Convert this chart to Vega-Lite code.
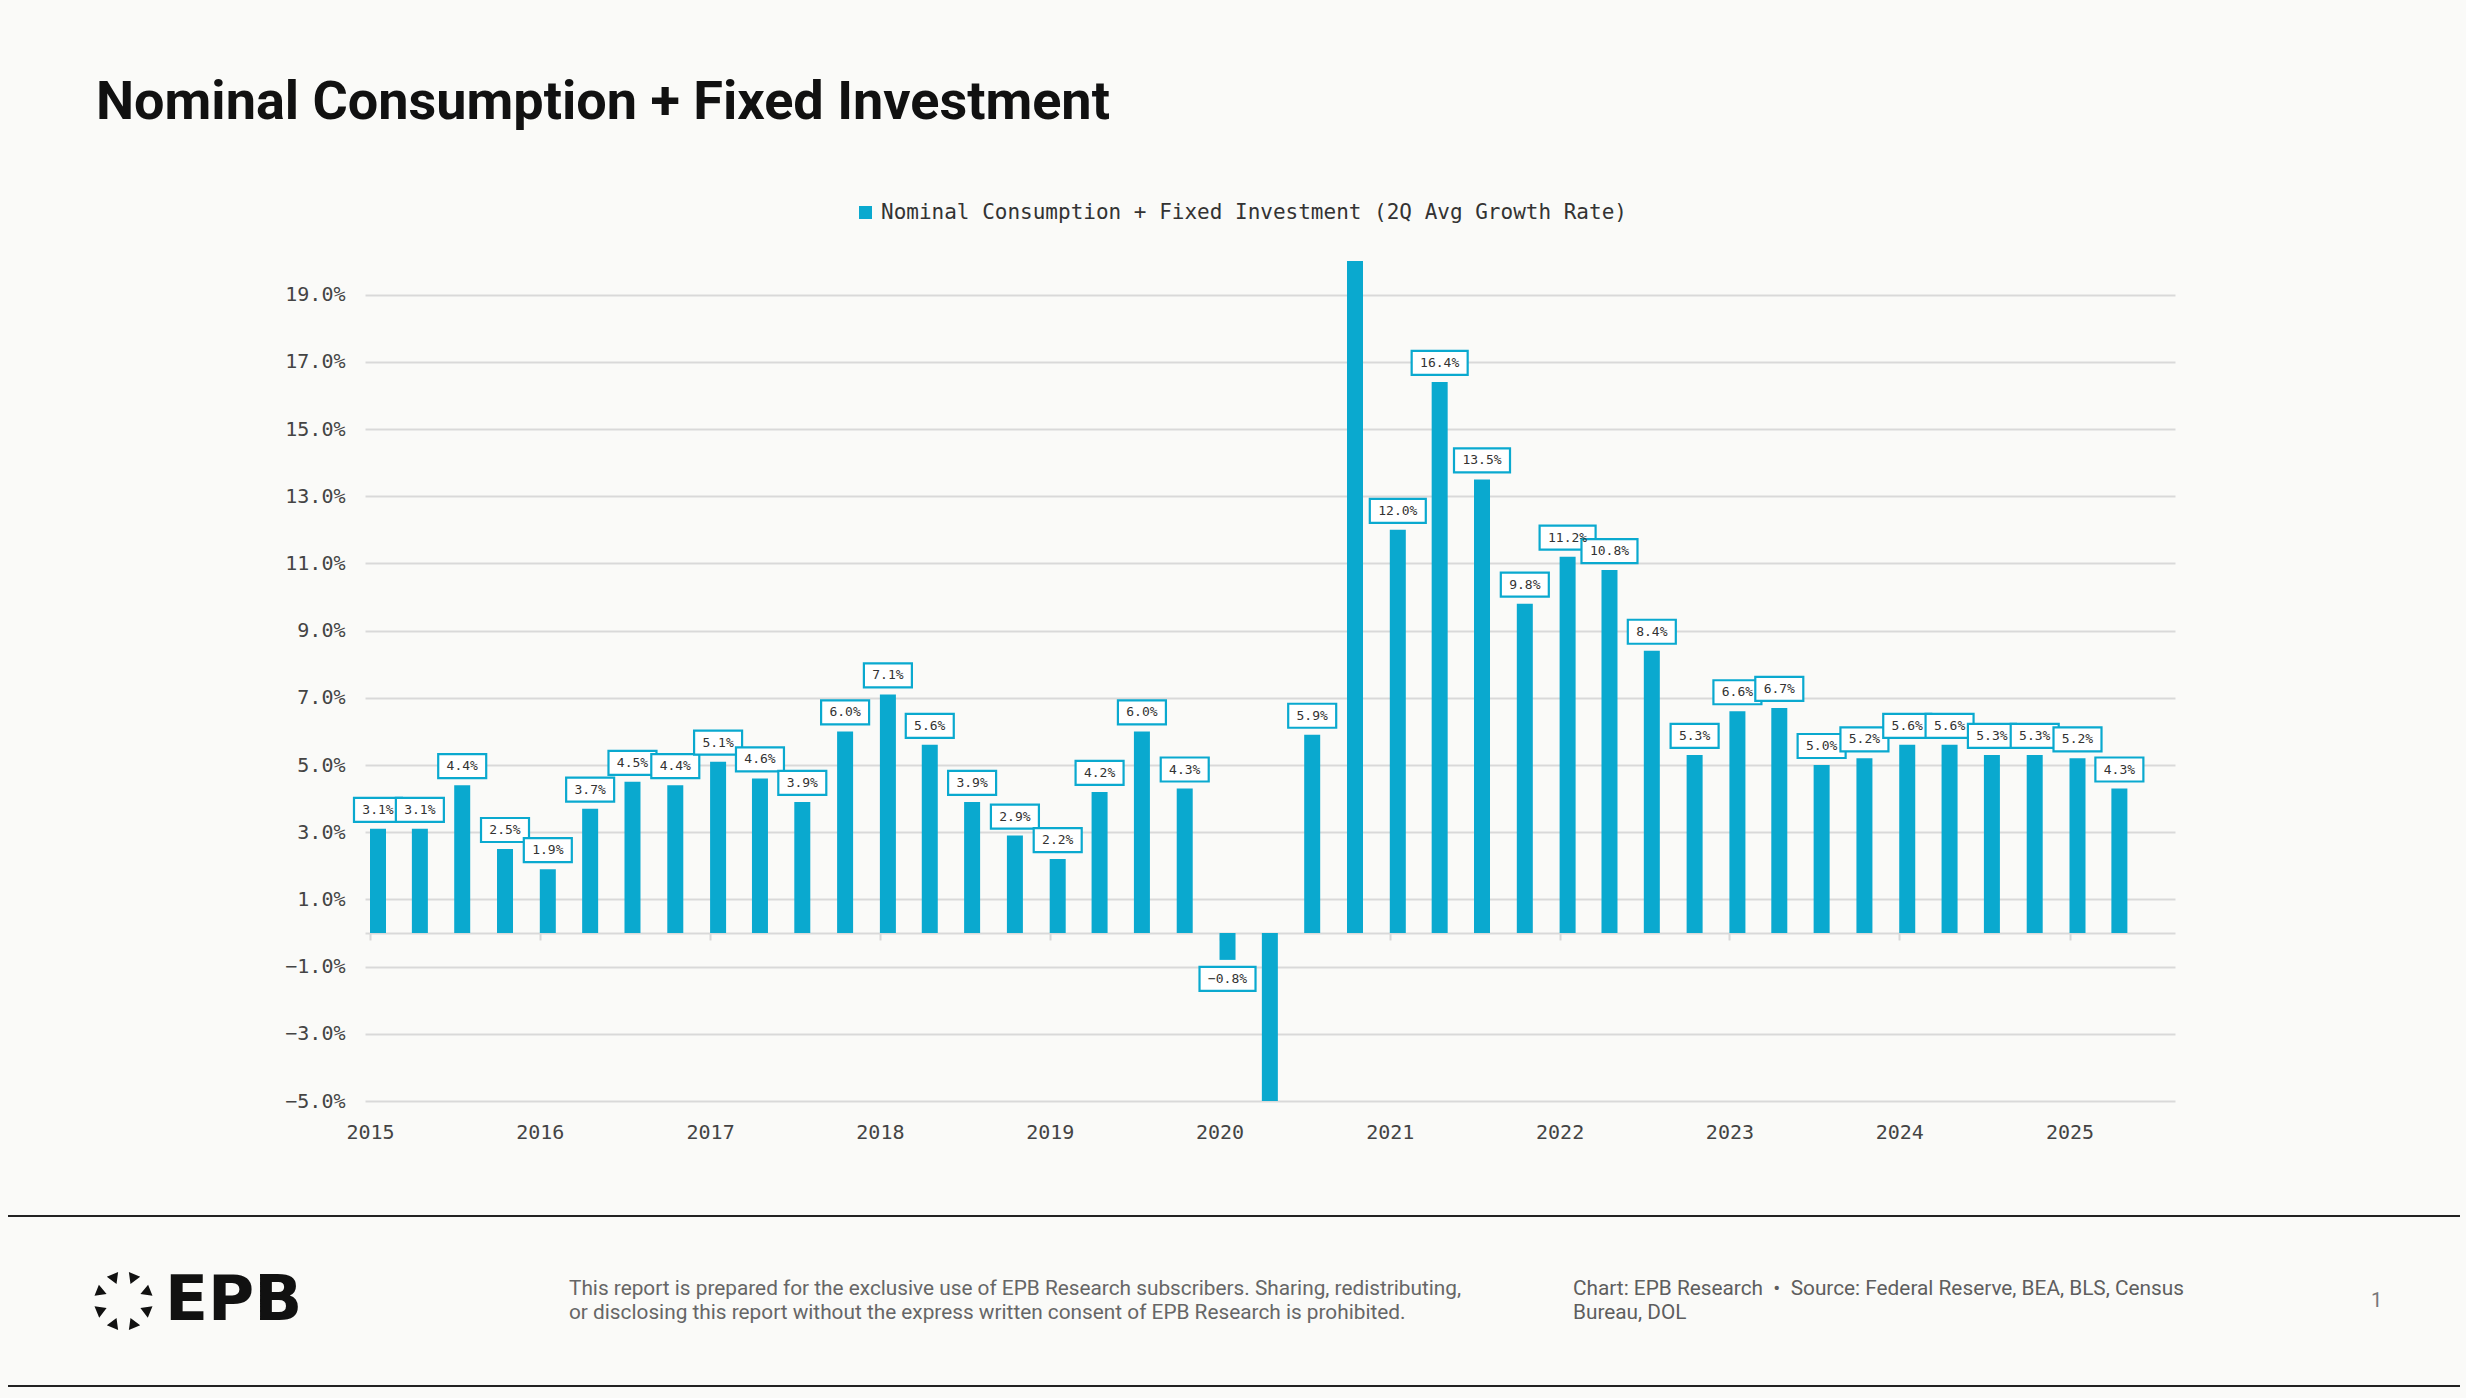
{
  "$schema": "https://vega.github.io/schema/vega-lite/v6.json",
  "background": "#FAFAF8",
  "padding": {"left": 8, "top": 76, "right": 6, "bottom": 11},
  "config": {"view": {"stroke": null}, "font": "DejaVu Sans Mono"},
  "title": {"text": "Nominal Consumption + Fixed Investment", "anchor": "start", "frame": "bounds", "font": "Roboto", "fontWeight": 700, "fontSize": 54, "color": "#111111", "dx": 88, "offset": 72},
  "bounds": "full",
  "spacing": 73,
  "vconcat": [
    {
      "bounds": "flush",
      "spacing": 0,
      "hconcat": [
        {"width": 357, "height": 840, "data": {"values": []}, "mark": "text", "view": {"fill": "#FFFFFF", "fillOpacity": 0}},
        {
          "width": 1810,
          "height": 840,
          "data": {"values": [
            {"date": "2015-01-01", "v": 3.1}, {"date": "2015-04-01", "v": 3.1}, {"date": "2015-07-01", "v": 4.4}, {"date": "2015-10-01", "v": 2.5},
            {"date": "2016-01-01", "v": 1.9}, {"date": "2016-04-01", "v": 3.7}, {"date": "2016-07-01", "v": 4.5}, {"date": "2016-10-01", "v": 4.4},
            {"date": "2017-01-01", "v": 5.1}, {"date": "2017-04-01", "v": 4.6}, {"date": "2017-07-01", "v": 3.9}, {"date": "2017-10-01", "v": 6.0},
            {"date": "2018-01-01", "v": 7.1}, {"date": "2018-04-01", "v": 5.6}, {"date": "2018-07-01", "v": 3.9}, {"date": "2018-10-01", "v": 2.9},
            {"date": "2019-01-01", "v": 2.2}, {"date": "2019-04-01", "v": 4.2}, {"date": "2019-07-01", "v": 6.0}, {"date": "2019-10-01", "v": 4.3},
            {"date": "2020-01-01", "v": -0.8}, {"date": "2020-04-01", "v": -5.0}, {"date": "2020-07-01", "v": 5.9}, {"date": "2020-10-01", "v": 20.0},
            {"date": "2021-01-01", "v": 12.0}, {"date": "2021-04-01", "v": 16.4}, {"date": "2021-07-01", "v": 13.5}, {"date": "2021-10-01", "v": 9.8},
            {"date": "2022-01-01", "v": 11.2}, {"date": "2022-04-01", "v": 10.8}, {"date": "2022-07-01", "v": 8.4}, {"date": "2022-10-01", "v": 5.3},
            {"date": "2023-01-01", "v": 6.6}, {"date": "2023-04-01", "v": 6.7}, {"date": "2023-07-01", "v": 5.0}, {"date": "2023-10-01", "v": 5.2},
            {"date": "2024-01-01", "v": 5.6}, {"date": "2024-04-01", "v": 5.6}, {"date": "2024-07-01", "v": 5.3}, {"date": "2024-10-01", "v": 5.3},
            {"date": "2025-01-01", "v": 5.2}, {"date": "2025-04-01", "v": 4.3}
          ]},
          "transform": [{"calculate": "format(datum.v, '.1f') + '%'", "as": "lab"}],
          "encoding": {
            "x": {
              "field": "date", "type": "temporal",
              "scale": {"type": "utc", "domain": [{"year": 2015, "month": 1, "date": 1, "utc": true}, {"year": 2025, "month": 8, "date": 5, "utc": true}], "nice": false},
              "axis": {
                "values": [
                  {"year": 2015, "month": 1, "date": 1, "utc": true}, {"year": 2016, "month": 1, "date": 1, "utc": true},
                  {"year": 2017, "month": 1, "date": 1, "utc": true}, {"year": 2018, "month": 1, "date": 1, "utc": true},
                  {"year": 2019, "month": 1, "date": 1, "utc": true}, {"year": 2020, "month": 1, "date": 1, "utc": true},
                  {"year": 2021, "month": 1, "date": 1, "utc": true}, {"year": 2022, "month": 1, "date": 1, "utc": true},
                  {"year": 2023, "month": 1, "date": 1, "utc": true}, {"year": 2024, "month": 1, "date": 1, "utc": true},
                  {"year": 2025, "month": 1, "date": 1, "utc": true}
                ],
                "format": "%Y",
                "grid": false,
                "domain": true, "domainColor": "#D9D9D9", "domainWidth": 2,
                "ticks": true, "tickColor": "#D9D9D9", "tickWidth": 2, "tickSize": 7,
                "offset": -168,
                "labelPadding": 182,
                "labelDx": 8,
                "labelBaseline": "top",
                "labelFont": "DejaVu Sans Mono", "labelFontSize": 20, "labelColor": "#444444",
                "labelFlush": false, "labelOverlap": false,
                "title": null
              }
            },
            "y": {
              "field": "v", "type": "quantitative",
              "scale": {"domain": [-5, 20], "nice": false, "zero": false},
              "axis": {
                "values": [-5, -3, -1, 1, 3, 5, 7, 9, 11, 13, 15, 17, 19],
                "labelExpr": "format(datum.value, '.1f') + '%'",
                "grid": true, "gridColor": "#D9D9D9", "gridWidth": 2,
                "domain": false, "ticks": false,
                "labelPadding": 20,
                "labelFont": "DejaVu Sans Mono", "labelFontSize": 20, "labelColor": "#444444",
                "title": null
              }
            }
          },
          "layer": [
            {
              "mark": {"type": "bar", "size": 16, "xOffset": 8, "clip": true},
              "encoding": {
                "color": {
                  "datum": "Nominal Consumption + Fixed Investment (2Q Avg Growth Rate)",
                  "type": "nominal",
                  "scale": {"range": ["#0AA9CF"]},
                  "legend": {"orient": "none", "legendX": 847, "legendY": -59, "title": null, "symbolType": "square", "symbolSize": 170, "symbolStrokeWidth": 0, "labelFont": "DejaVu Sans Mono", "labelFontSize": 21, "labelColor": "#333333", "labelOffset": 5, "labelLimit": 3000, "padding": 0}
                }
              }
            },
            {
              "transform": [{"filter": "datum.v >= 0 && datum.v < 20"}],
              "mark": {"type": "point", "filled": true, "fill": "#FFFFFF", "stroke": "#0AA9CF", "strokeWidth": 2.2, "opacity": 1, "fillOpacity": 1, "strokeOpacity": 1, "xOffset": 8, "yOffset": -19},
              "encoding": {
                "shape": {"condition": {"test": "length(datum.lab) > 4", "value": "M-1,-0.4286H1V0.4286H-1Z"}, "value": "M-1,-0.5H1V0.5H-1Z"},
                "size": {"condition": {"test": "length(datum.lab) > 4", "value": 3136}, "value": 2304}
              }
            },
            {
              "transform": [{"filter": "datum.v >= 0 && datum.v < 20"}],
              "mark": {"type": "text", "font": "DejaVu Sans Mono", "fontSize": 13, "color": "#333333", "xOffset": 8, "yOffset": -19, "baseline": "middle", "align": "center"},
              "encoding": {"text": {"field": "lab"}}
            },
            {
              "transform": [{"filter": "datum.v < 0 && datum.v > -5"}],
              "mark": {"type": "point", "filled": true, "fill": "#FFFFFF", "stroke": "#0AA9CF", "strokeWidth": 2.2, "opacity": 1, "fillOpacity": 1, "strokeOpacity": 1, "xOffset": 8, "yOffset": 19},
              "encoding": {
                "shape": {"condition": {"test": "length(datum.lab) > 4", "value": "M-1,-0.4286H1V0.4286H-1Z"}, "value": "M-1,-0.5H1V0.5H-1Z"},
                "size": {"condition": {"test": "length(datum.lab) > 4", "value": 3136}, "value": 2304}
              }
            },
            {
              "transform": [{"filter": "datum.v < 0 && datum.v > -5"}],
              "mark": {"type": "text", "font": "DejaVu Sans Mono", "fontSize": 13, "color": "#333333", "xOffset": 8, "yOffset": 19, "baseline": "middle", "align": "center"},
              "encoding": {"text": {"field": "lab"}}
            }
          ]
        }
      ]
    },
    {
      "bounds": "full",
      "spacing": 0,
      "vconcat": [
        {"width": 2452, "height": 2, "data": {"values": []}, "mark": "text", "view": {"fill": "#222222", "stroke": null}},
        {
          "bounds": "flush",
          "spacing": 0,
          "hconcat": [
            {"width": 86, "height": 168, "data": {"values": []}, "mark": "text", "view": {"fill": "#FFFFFF", "fillOpacity": 0}},
            {"width": 59, "height": 168, "data": {"values": [{"k": "logo"}]}, "view": {"fill": "#FFFFFF", "fillOpacity": 0},
             "mark": {"type": "point", "filled": true, "fill": "#111111", "opacity": 1, "strokeWidth": 0, "size": 3481,
                      "shape": "M0.182,-0.983L0.566,-0.824L0.237,-0.573Z M0.834,-0.552L0.983,-0.182L0.573,-0.237Z M0.983,0.182L0.824,0.566L0.573,0.237Z M0.566,0.824L0.182,0.983L0.237,0.573Z M-0.182,0.983L-0.566,0.824L-0.237,0.573Z M-0.824,0.566L-0.983,0.182L-0.573,0.237Z M-0.983,-0.182L-0.834,-0.552L-0.573,-0.237Z M-0.566,-0.824L-0.182,-0.983L-0.237,-0.573Z"}},
            {"width": 24, "height": 168, "data": {"values": [{"t": "EPB"}]}, "view": {"fill": "#FFFFFF", "fillOpacity": 0},
             "mark": {"type": "text", "align": "left", "baseline": "middle", "font": "DejaVu Sans", "fontWeight": "bold", "fontSize": 63, "color": "#111111"},
             "encoding": {"text": {"field": "t"}}},
            {"width": 784, "height": 168, "data": {"values": [{"t": "This report is prepared for the exclusive use of EPB Research subscribers. Sharing, redistributing,\nor disclosing this report without the express written consent of EPB Research is prohibited."}]}, "view": {"fill": "#FFFFFF", "fillOpacity": 0},
             "mark": {"type": "text", "align": "left", "baseline": "middle", "dy": -12, "font": "Roboto", "fontSize": 20.8, "lineHeight": 24, "lineBreak": "\n", "color": "#666666"},
             "encoding": {"text": {"field": "t"}}},
            {"width": 602, "height": 168, "data": {"values": []}, "mark": "text", "view": {"fill": "#FFFFFF", "fillOpacity": 0}},
            {"width": 20, "height": 168, "data": {"values": [{"t": "Chart: EPB Research\u00a0\u00a0•\u00a0\u00a0Source: Federal Reserve, BEA, BLS, Census\nBureau, DOL"}]}, "view": {"fill": "#FFFFFF", "fillOpacity": 0},
             "mark": {"type": "text", "align": "left", "baseline": "middle", "dy": -12, "font": "Roboto", "fontSize": 20.8, "lineHeight": 24, "lineBreak": "\n", "color": "#5E5E5E"},
             "encoding": {"text": {"field": "t"}}},
            {"width": 778, "height": 168, "data": {"values": []}, "mark": "text", "view": {"fill": "#FFFFFF", "fillOpacity": 0}},
            {"width": 20, "height": 168, "data": {"values": [{"t": "1"}]}, "view": {"fill": "#FFFFFF", "fillOpacity": 0},
             "mark": {"type": "text", "align": "left", "baseline": "middle", "font": "Roboto", "fontSize": 20, "color": "#777777"},
             "encoding": {"text": {"field": "t"}}},
            {"width": 79, "height": 168, "data": {"values": []}, "mark": "text", "view": {"fill": "#FFFFFF", "fillOpacity": 0}}
          ]
        },
        {"width": 2452, "height": 2, "data": {"values": []}, "mark": "text", "view": {"fill": "#222222", "stroke": null}}
      ]
    }
  ]
}
